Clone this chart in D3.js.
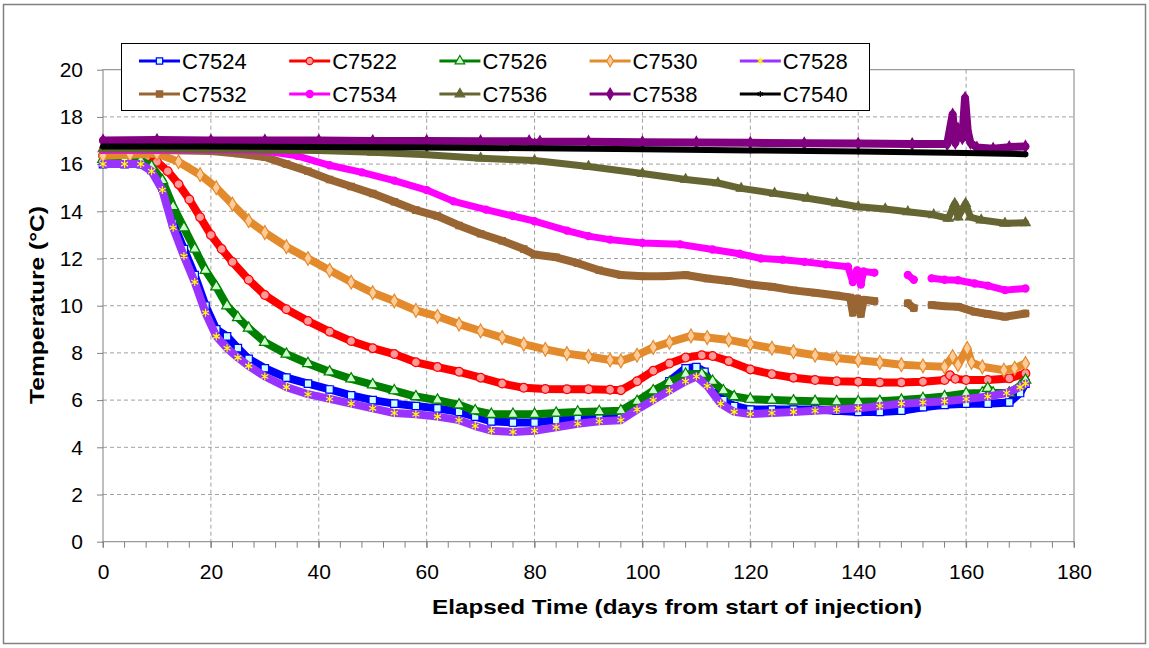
<!DOCTYPE html>
<html>
<head>
<meta charset="utf-8">
<script src="https://cdn.jsdelivr.net/npm/d3@7"></script>
<style>
body { margin: 0; background: #fff; }
svg { display: block; font-family: "Liberation Sans", Arial, sans-serif; }
</style>
</head>
<body>
<div id="chart"></div>
<script>
// [elapsed day, temperature °C]; null = no data
const C7524 = [[0,16.0],[4,16.0],[7,16.0],[9,15.75],[11,15.0],[13,13.5],[15,12.4],[17,11.3],[19,10.0],[21,9.0],[23,8.7],[25,8.2],[27,7.75],[30,7.35],[34,6.95],[38,6.7],[42,6.45],[46,6.2],[50,6.0],[54,5.85],[58,5.75],[62,5.65],[66,5.5],[69,5.3],[72,5.1],[76,5.05],[80,5.05],[84,5.15],[88,5.27],[92,5.3],[96,5.35],[99,5.8],[102,6.25],[105,6.8],[108,7.35],[110,7.4],[111.5,7.2],[113,6.6],[115,6.0],[117,5.75],[120,5.6],[124,5.6],[128,5.6],[132,5.6],[136,5.55],[140,5.5],[144,5.5],[148,5.55],[152,5.7],[156,5.8],[160,5.85],[164,5.85],[168,5.9],[170,6.3],[171,6.7]];
const C7522 = [[0,16.35],[4,16.35],[8,16.3],[10,16.1],[12,15.7],[14,15.15],[16,14.5],[18,13.75],[20,13.0],[22,12.4],[24,11.85],[27,11.1],[30,10.45],[34,9.85],[38,9.35],[42,8.9],[46,8.5],[50,8.2],[54,7.95],[58,7.6],[62,7.4],[66,7.2],[70,6.95],[74,6.7],[78,6.52],[82,6.47],[86,6.46],[90,6.46],[94,6.44],[96,6.42],[99,6.8],[102,7.24],[105,7.55],[108,7.8],[111,7.9],[113,7.87],[116,7.65],[120,7.3],[124,7.1],[128,6.95],[132,6.85],[136,6.8],[140,6.78],[144,6.75],[148,6.75],[152,6.78],[156,6.85],[157,7.05],[158,6.9],[160,6.85],[164,6.85],[168,6.92],[171,7.13]];
const C7526 = [[0,16.2],[4,16.2],[7,16.15],[9,15.9],[11,15.3],[13,14.2],[15,13.3],[17,12.4],[19,11.5],[21,10.8],[23,10.0],[25,9.5],[27,9.05],[30,8.45],[34,7.95],[38,7.55],[42,7.2],[46,6.9],[50,6.65],[54,6.4],[58,6.15],[62,6.0],[66,5.8],[69,5.55],[72,5.4],[76,5.4],[80,5.4],[84,5.45],[88,5.5],[92,5.52],[96,5.55],[99,5.95],[102,6.4],[105,6.75],[108,7.1],[111,7.1],[113,6.8],[115,6.4],[117,6.15],[120,6.04],[124,6.0],[128,5.97],[132,5.95],[136,5.93],[140,5.93],[144,5.95],[148,6.0],[152,6.07],[156,6.15],[160,6.28],[163,6.3],[164,6.5],[165,6.3],[168,6.3],[170,6.6],[171,6.85]];
const C7530 = [[0,16.35],[5,16.4],[10,16.45],[14,16.1],[18,15.55],[21,15.0],[24,14.3],[27,13.6],[30,13.1],[34,12.5],[38,12.0],[42,11.5],[46,11.0],[50,10.55],[54,10.2],[58,9.8],[62,9.55],[66,9.22],[70,8.93],[74,8.65],[78,8.37],[82,8.15],[86,7.97],[90,7.85],[94,7.7],[96,7.66],[99,7.9],[102,8.23],[105,8.45],[109,8.72],[112,8.65],[116,8.55],[120,8.37],[124,8.2],[128,8.05],[132,7.9],[136,7.78],[140,7.69],[144,7.6],[148,7.5],[152,7.45],[156,7.41],[157.5,7.84],[158.5,7.5],[160.2,8.19],[161,7.6],[163,7.41],[167,7.27],[169,7.35],[171,7.55]];
const C7528 = [[0,16.0],[4,16.0],[7,16.0],[9,15.7],[11,14.9],[13,13.3],[15,12.1],[17,11.0],[19,9.7],[21,8.7],[23,8.2],[25,7.8],[27,7.45],[30,7.0],[34,6.55],[38,6.25],[42,6.05],[46,5.85],[50,5.65],[54,5.45],[58,5.4],[62,5.3],[66,5.15],[69,4.9],[72,4.7],[76,4.65],[80,4.7],[84,4.85],[88,5.0],[92,5.1],[96,5.15],[99,5.6],[102,6.0],[105,6.4],[108,6.8],[110,7.0],[112,6.6],[114.5,5.85],[117,5.5],[120,5.41],[124,5.45],[128,5.5],[132,5.55],[136,5.6],[140,5.65],[144,5.75],[148,5.85],[152,5.9],[156,5.95],[160,6.05],[164,6.15],[167.5,6.3],[170,6.55],[171,6.7]];
const C7532 = [[0,16.6],[10,16.6],[20,16.55],[25,16.45],[30,16.3],[34,16.0],[38,15.7],[42,15.35],[46,15.05],[50,14.75],[54,14.4],[58,14.05],[62,13.8],[66,13.4],[70,13.05],[74,12.75],[78,12.4],[80,12.17],[84,12.05],[88,11.8],[92,11.5],[96,11.3],[100,11.25],[104,11.25],[108,11.3],[112,11.15],[116,11.05],[120,10.9],[124,10.8],[128,10.65],[132,10.55],[136,10.43],[138.5,10.35],[139,9.7],[139.8,10.3],[140.5,9.65],[141,10.25],[143,10.2],[146,null],[149.2,10.1],[150.3,9.9],[152,null],[153.6,10.03],[156,9.98],[158.5,9.96],[161.6,9.74],[164,9.65],[167.2,9.53],[171,9.67]];
const C7534 = [[0,16.6],[10,16.6],[20,16.6],[30,16.55],[36,16.35],[42,15.95],[48,15.65],[54,15.3],[60,14.9],[65,14.42],[71,14.07],[76,13.8],[80,13.58],[86,13.18],[90,12.95],[94,12.8],[100,12.66],[107,12.6],[113,12.38],[118,12.2],[122,12.0],[126,11.95],[130,11.86],[134,11.75],[138.1,11.65],[139,11.0],[139.8,11.5],[140.5,10.9],[141,11.45],[143,11.4],[146,null],[149.2,11.3],[150.3,11.1],[152,null],[153.6,11.16],[156,11.1],[158.5,11.08],[161.6,10.94],[164,10.85],[167.2,10.66],[171,10.73]];
const C7536 = [[0,16.65],[10,16.65],[20,16.62],[30,16.6],[40,16.58],[50,16.5],[60,16.4],[70,16.25],[80,16.15],[90,15.9],[100,15.6],[108,15.35],[114,15.2],[118.3,14.97],[124.5,14.76],[130.6,14.55],[136,14.35],[140,14.19],[145,14.1],[149.2,13.98],[154,13.85],[156.7,13.7],[157.9,14.33],[158.5,13.75],[159.9,14.33],[160.8,13.75],[162.8,13.63],[167.2,13.49],[171,13.51]];
const C7538 = [[0,17.0],[10,17.02],[20,17.0],[30,17.0],[40,17.0],[50,16.98],[60,16.98],[70,16.97],[79,16.97],[80,16.85],[81,16.95],[90,16.95],[100,16.93],[110,16.92],[120,16.9],[130,16.88],[140,16.87],[150,16.85],[156.5,16.85],[157.5,18.1],[158,16.9],[158.5,17.5],[159.3,17.1],[159.8,18.8],[160.3,17.4],[160.8,16.9],[162,16.7],[165,16.65],[168,16.72],[171,16.75]];
const C7540 = [[0,16.75],[20,16.75],[40,16.72],[60,16.7],[80,16.67],[100,16.63],[120,16.58],[140,16.53],[160,16.47],[171,16.42]];

const X_TICKS = [0, 20, 40, 60, 80, 100, 120, 140, 160, 180];
const Y_TICKS = [0, 2, 4, 6, 8, 10, 12, 14, 16, 18, 20];

const SERIES = [
    { name: 'C7524', data: C7524, color: '#0000FF', fill: '#CCFFFF', symbol: d3.symbolSquare, size: 55, width: 8 },
    { name: 'C7522', data: C7522, color: '#FF0000', fill: '#FF9999', symbol: d3.symbolCircle, size: 60, width: 8 },
    { name: 'C7526', data: C7526, color: '#008000', fill: '#CCFFCC', symbol: d3.symbolTriangle, size: 50, width: 8 },
    { name: 'C7530', data: C7530, color: '#E38B2C', fill: '#FFCC99', symbol: d3.symbolDiamond, size: 55, width: 8 },
    { name: 'C7528', data: C7528, color: '#9933FF', fill: 'none', stroke: '#FFFF00', symbol: d3.symbolAsterisk, size: 45, width: 8 },
    { name: 'C7532', data: C7532, color: '#996633', fill: '#996633', symbol: d3.symbolSquare, size: 40, width: 8 },
    { name: 'C7534', data: C7534, color: '#FF00FF', fill: '#FF00FF', symbol: d3.symbolCircle, size: 40, width: 7 },
    { name: 'C7536', data: C7536, color: '#666633', fill: '#666633', symbol: d3.symbolTriangle, size: 40, width: 7 },
    { name: 'C7538', data: C7538, color: '#800080', fill: '#800080', symbol: d3.symbolDiamond, size: 40, width: 8 },
    { name: 'C7540', data: C7540, color: '#000000', fill: 'none', stroke: '#000000', symbol: d3.symbolAsterisk, size: 25, width: 6 }
];

const width = 1149, height = 648;
const plot = {left: 103, right: 1074, top: 69.7, bottom: 541.7};

const svg = d3.select('#chart')
    .append('svg')
    .attr('width', width)
    .attr('height', height);

svg.append('rect')
    .attr('x', 3.5).attr('y', 4.5)
    .attr('width', 1142).attr('height', 639)
    .attr('fill', '#fff')
    .attr('stroke', '#808080')
    .attr('stroke-width', 1.5);

const x = d3.scaleLinear().domain([0, 180]).range([plot.left, plot.right]);
const y = d3.scaleLinear().domain([0, 20]).range([plot.bottom, plot.top]);

// dashed grid
svg.append('g')
    .selectAll('line')
    .data(X_TICKS.slice(1, -1))
    .enter()
    .append('line')
    .attr('x1', d => x(d)).attr('x2', d => x(d))
    .attr('y1', plot.top).attr('y2', plot.bottom)
    .attr('stroke', '#A0A0A0')
    .attr('stroke-dasharray', '4,3');

svg.append('g')
    .selectAll('line')
    .data(Y_TICKS.slice(1, -1))
    .enter()
    .append('line')
    .attr('x1', plot.left).attr('x2', plot.right)
    .attr('y1', d => y(d)).attr('y2', d => y(d))
    .attr('stroke', '#A0A0A0')
    .attr('stroke-dasharray', '4,3');

svg.append('rect')
    .attr('x', plot.left).attr('y', plot.top)
    .attr('width', plot.right - plot.left)
    .attr('height', plot.bottom - plot.top)
    .attr('fill', 'none')
    .attr('stroke', '#808080');

// axes
const yAxis = svg.append('g')
    .attr('transform', `translate(${plot.left},0)`)
    .call(d3.axisLeft(y).tickValues(Y_TICKS).tickSize(6).tickPadding(14));

const xAxis = svg.append('g')
    .attr('transform', `translate(0,${plot.bottom})`)
    .call(d3.axisBottom(x).tickValues(X_TICKS).tickSize(6).tickPadding(16));

// minor ticks every 4 days
xAxis.selectAll('.minor')
    .data(d3.range(0, 181, 4))
    .enter()
    .append('line')
    .attr('class', 'minor')
    .attr('x1', d => x(d)).attr('x2', d => x(d))
    .attr('y1', 0).attr('y2', 6)
    .attr('stroke', '#808080');

[yAxis, xAxis].forEach(g => {
    g.select('.domain').remove();
    g.selectAll('.tick line').attr('stroke', '#808080');
    g.selectAll('.tick text')
        .attr('fill', '#000')
        .style('font-size', '21px')
        .style('font-family', '"Liberation Sans", Arial, sans-serif');
});

// series
const line = d3.line()
    .defined(d => d[1] != null)
    .x(d => x(d[0]))
    .y(d => y(d[1]));

SERIES.forEach(s => {
    const g = svg.append('g');
    g.append('path')
        .datum(s.data)
        .attr('fill', 'none')
        .attr('stroke', s.color)
        .attr('stroke-width', s.width)
        .attr('stroke-linejoin', 'round')
        .attr('stroke-linecap', 'round')
        .attr('d', line);

    g.selectAll('path.mark')
        .data(s.data.filter(d => d[1] != null))
        .enter()
        .append('path')
        .attr('class', 'mark')
        .attr('transform', d => `translate(${x(d[0])},${y(d[1])})`)
        .attr('d', d3.symbol().type(s.symbol).size(s.size))
        .attr('fill', s.fill)
        .attr('stroke', s.stroke || s.color)
        .attr('stroke-width', 1.2);
});

// legend
const legend = svg.append('g');
legend.append('rect')
    .attr('x', 121.5).attr('y', 43.5)
    .attr('width', 748).attr('height', 67)
    .attr('fill', '#fff')
    .attr('stroke', '#000');

const item = legend.selectAll('.item')
    .data(SERIES)
    .enter()
    .append('g')
    .attr('class', 'item')
    .attr('transform', (d, i) => `translate(${139 + (i % 5) * 150.2},${i < 5 ? 61 : 94})`);

item.append('line')
    .attr('x1', 0).attr('x2', 41)
    .attr('stroke', d => d.color)
    .attr('stroke-width', 3);

item.append('path')
    .attr('transform', 'translate(20.5,0)')
    .attr('d', d => d3.symbol().type(d.symbol).size(Math.min(d.size, 40))())
    .attr('fill', d => d.fill)
    .attr('stroke', d => d.stroke || d.color)
    .attr('stroke-width', 1.2);

item.append('text')
    .attr('x', 43)
    .attr('dy', '0.36em')
    .style('font-size', '22px')
    .text(d => d.name);

// axis titles
svg.append('text')
    .attr('x', 677)
    .attr('y', 614)
    .attr('text-anchor', 'middle')
    .attr('textLength', 490)
    .attr('lengthAdjust', 'spacingAndGlyphs')
    .style('font-size', '21px')
    .style('font-weight', 'bold')
    .text('Elapsed Time (days from start of injection)');

svg.append('text')
    .attr('transform', 'translate(44,305) rotate(-90)')
    .attr('text-anchor', 'middle')
    .attr('textLength', 198)
    .attr('lengthAdjust', 'spacingAndGlyphs')
    .style('font-size', '21px')
    .style('font-weight', 'bold')
    .text('Temperature (°C)');
</script>
</body>
</html>
